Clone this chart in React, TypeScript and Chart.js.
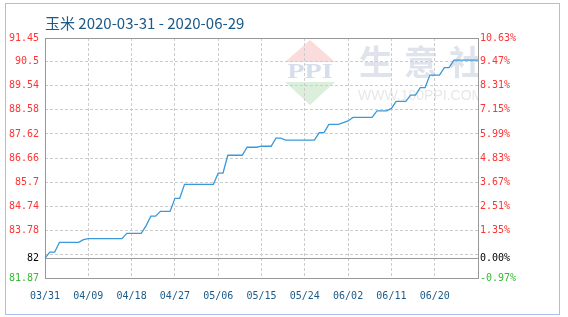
import React, { useEffect, useRef } from 'react';
import { Chart, registerables } from 'chart.js';

Chart.register(...registerables);

const TITLE = '玉米 2020-03-31 - 2020-06-29';

const dates = [
  '03/31',
  '04/01', '04/02', '04/03', '04/04', '04/05', '04/06', '04/07', '04/08', '04/09', '04/10',
  '04/11', '04/12', '04/13', '04/14', '04/15', '04/16', '04/17', '04/18', '04/19', '04/20',
  '04/21', '04/22', '04/23', '04/24', '04/25', '04/26', '04/27', '04/28', '04/29', '04/30',
  '05/01', '05/02', '05/03', '05/04', '05/05', '05/06', '05/07', '05/08', '05/09', '05/10',
  '05/11', '05/12', '05/13', '05/14', '05/15', '05/16', '05/17', '05/18', '05/19', '05/20',
  '05/21', '05/22', '05/23', '05/24', '05/25', '05/26', '05/27', '05/28', '05/29', '05/30', '05/31',
  '06/01', '06/02', '06/03', '06/04', '06/05', '06/06', '06/07', '06/08', '06/09', '06/10',
  '06/11', '06/12', '06/13', '06/14', '06/15', '06/16', '06/17', '06/18', '06/19', '06/20',
  '06/21', '06/22', '06/23', '06/24', '06/25', '06/26', '06/27', '06/28', '06/29',
];

const prices = [
  82.66, 82.90, 82.90, 83.29, 83.29, 83.29, 83.29, 83.29, 83.40, 83.44,
  83.44, 83.44, 83.44, 83.44, 83.44, 83.44, 83.44, 83.65, 83.65, 83.65,
  83.65, 83.95, 84.34, 84.34, 84.53, 84.53, 84.53, 85.05, 85.05, 85.61,
  85.61, 85.61, 85.61, 85.61, 85.61, 85.61, 86.06, 86.06, 86.77, 86.77,
  86.77, 86.77, 87.09, 87.09, 87.09, 87.13, 87.13, 87.13, 87.45, 87.45,
  87.37, 87.37, 87.37, 87.37, 87.37, 87.37, 87.37, 87.67, 87.67, 88.00,
  88.00, 88.00, 88.07, 88.14, 88.28, 88.28, 88.28, 88.28, 88.28, 88.54,
  88.54, 88.54, 88.64, 88.92, 88.92, 88.92, 89.17, 89.17, 89.47, 89.47,
  89.97, 89.97, 89.97, 90.27, 90.27, 90.57, 90.57, 90.57, 90.57, 90.57,
  90.57,
];

const xTickLabels = ['03/31', '04/09', '04/18', '04/27', '05/06', '05/15', '05/24', '06/02', '06/11', '06/20'];

const yTickValues = [91.45, 90.5, 89.54, 88.58, 87.62, 86.66, 85.7, 84.74, 83.78, 82.82, 82.66, 81.87];
const leftTickLabels = ['91.45', '90.5', '89.54', '88.58', '87.62', '86.66', '85.7', '84.74', '83.78', '', '82', '81.87'];
const rightTickLabels = ['10.63%', '9.47%', '8.31%', '7.15%', '5.99%', '4.83%', '3.67%', '2.51%', '1.35%', '', '0.00%', '-0.97%'];

const BASE = 82.66;
const Y_MIN = 81.87;
const Y_MAX = 91.45;

const RED = '#ff3333';
const GREEN = '#33bb33';
const BLACK = '#000000';
const GRID = '#cccccc';
const FRAME = '#999999';
const LABEL_BLUE = '#1b5a88';
const LINE = '#3b99d8';

const tickColor = (ctx: any) => {
  const v = ctx.tick ? ctx.tick.value : 0;
  if (Math.abs(v - BASE) < 0.001) return BLACK;
  return v > BASE ? RED : GREEN;
};

const decorPlugin = {
  id: 'decor',
  beforeDraw(chart: any) {
    const { ctx, chartArea } = chart;
    ctx.save();
    // outer frame
    ctx.strokeStyle = '#a9bdf0';
    ctx.lineWidth = 1;
    ctx.strokeRect(5.5, 3.5, 554, 311);
    // title
    ctx.fillStyle = LABEL_BLUE;
    ctx.font = "15px 'Noto Sans CJK SC'";
    ctx.textBaseline = 'middle';
    ctx.textAlign = 'left';
    ctx.fillText(TITLE, 45, 23);
    ctx.restore();

    // watermark
    ctx.save();
    ctx.beginPath();
    ctx.rect(chartArea.left, chartArea.top, chartArea.right - chartArea.left, chartArea.bottom - chartArea.top);
    ctx.clip();
    // logo
    ctx.fillStyle = '#fadcdc';
    ctx.beginPath();
    ctx.moveTo(310, 40);
    ctx.lineTo(335, 62);
    ctx.lineTo(285, 62);
    ctx.closePath();
    ctx.fill();
    ctx.fillStyle = '#dcefdc';
    ctx.beginPath();
    ctx.moveTo(285, 82);
    ctx.lineTo(335, 82);
    ctx.lineTo(310, 105);
    ctx.closePath();
    ctx.fill();
    ctx.save();
    ctx.fillStyle = '#d6ddeb';
    ctx.font = "bold 21px 'Liberation Serif'";
    ctx.textAlign = 'center';
    ctx.textBaseline = 'middle';
    ctx.translate(310, 72.5);
    ctx.scale(1.35, 1);
    ctx.fillText('PPI', 0, 0);
    ctx.restore();
    // big text
    ctx.fillStyle = '#dfe3ec';
    ctx.font = "bold 34px 'Noto Sans CJK SC'";
    ctx.textAlign = 'left';
    ctx.textBaseline = 'middle';
    const chars = ['生', '意', '社'];
    chars.forEach((c, k) => ctx.fillText(c, 359 + 45 * k, 62));
    ctx.fillStyle = '#e8e8e8';
    ctx.font = "14px 'Liberation Sans'";
    ctx.fillText('WWW.100PPI.COM', 358, 96);
    ctx.restore();
  },
  beforeDatasetsDraw(chart: any) {
    const { ctx, chartArea, scales } = chart;
    ctx.save();
    ctx.strokeStyle = FRAME;
    ctx.lineWidth = 1;
    const yb = Math.round(scales.y.getPixelForValue(BASE)) + 0.5;
    ctx.beginPath();
    ctx.moveTo(chartArea.left, yb);
    ctx.lineTo(chartArea.right, yb);
    ctx.stroke();
    ctx.strokeRect(
      Math.round(chartArea.left) + 0.5,
      Math.round(chartArea.top) + 0.5,
      Math.round(chartArea.right - chartArea.left),
      Math.round(chartArea.bottom - chartArea.top)
    );
    ctx.restore();
  },
};

export default function App() {
  const ref = useRef<HTMLCanvasElement | null>(null);

  useEffect(() => {
    document.body.style.margin = '0';
    const canvas = ref.current;
    if (!canvas) return;
    const tickFont = { family: "'DejaVu Sans Mono'", size: 10 };
    const chart = new Chart(canvas, {
      type: 'line',
      data: {
        labels: dates,
        datasets: [
          {
            data: prices,
            borderColor: LINE,
            borderWidth: 1.3,
            pointRadius: 0,
            tension: 0,
            fill: false,
            yAxisID: 'y',
          },
        ],
      },
      options: {
        responsive: false,
        animation: false,
        devicePixelRatio: 1,
        layout: { padding: { top: 38, left: 0, right: 0, bottom: 0 } },
        plugins: {
          legend: { display: false },
          tooltip: { enabled: false },
          title: { display: false },
        },
        scales: {
          x: {
            type: 'category',
            offset: false,
            afterFit: (s: any) => {
              s.height = 39;
            },
            grid: {
              drawTicks: false,
              color: (ctx: any) => (xTickLabels.includes(dates[ctx.index]) ? GRID : 'rgba(0,0,0,0)'),
              lineWidth: 1,
            },
            border: { display: false, dash: [3, 2] },
            ticks: {
              autoSkip: false,
              maxRotation: 0,
              minRotation: 0,
              padding: 12,
              color: LABEL_BLUE,
              font: tickFont,
              callback: (_v: any, i: number) => (xTickLabels.includes(dates[i]) ? dates[i] : ''),
            },
          },
          y: {
            type: 'linear',
            position: 'left',
            min: Y_MIN,
            max: Y_MAX,
            afterBuildTicks: (s: any) => {
              s.ticks = yTickValues.map((v) => ({ value: v }));
            },
            afterFit: (s: any) => {
              s.width = 45;
            },
            grid: {
              drawTicks: false,
              color: (ctx: any) => {
                const v = ctx.tick ? ctx.tick.value : 0;
                if (Math.abs(v - BASE) < 0.001 || v === Y_MIN) return 'rgba(0,0,0,0)';
                return GRID;
              },
              lineWidth: 1,
            },
            border: { display: false, dash: [3, 2] },
            ticks: {
              autoSkip: false,
              padding: 6,
              color: tickColor,
              font: tickFont,
              callback: (_v: any, i: number) => leftTickLabels[i],
            },
          },
          y1: {
            type: 'linear',
            position: 'right',
            min: Y_MIN,
            max: Y_MAX,
            afterBuildTicks: (s: any) => {
              s.ticks = yTickValues.map((v) => ({ value: v }));
            },
            afterFit: (s: any) => {
              s.width = 90;
            },
            grid: { display: false, drawTicks: false },
            border: { display: false },
            ticks: {
              autoSkip: false,
              padding: 2,
              color: tickColor,
              font: tickFont,
              callback: (_v: any, i: number) => rightTickLabels[i],
            },
          },
        },
      },
      plugins: [decorPlugin],
    } as any);
    return () => chart.destroy();
  }, []);

  return (
    <div style={{ width: 568, height: 317, background: '#ffffff' }}>
      <canvas ref={ref} width={568} height={317} style={{ display: 'block', width: 568, height: 317 }} />
    </div>
  );
}
